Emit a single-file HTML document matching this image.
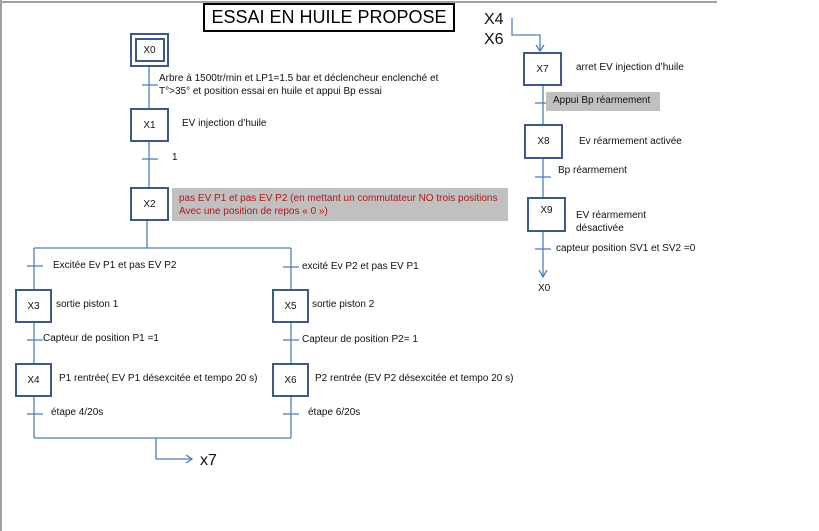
<!DOCTYPE html>
<html><head><meta charset="utf-8"><style>
html,body{margin:0;padding:0;background:#fff;}
body{width:819px;height:531px;position:relative;overflow:hidden;font-family:"Liberation Sans",sans-serif;}
.t{position:absolute;font-size:10px;color:#111;white-space:nowrap;line-height:12px;}
.b{position:absolute;border:2.5px solid #3d5a87;box-sizing:border-box;background:#fff;font-size:10px;display:flex;align-items:center;justify-content:center;color:#111;}
</style></head><body>
<svg width="819" height="531" style="position:absolute;left:0;top:0">
<g stroke="#a0a0a0" stroke-width="2"><line x1="1" y1="0" x2="1" y2="531"/><line x1="0" y1="2" x2="717" y2="2"/></g>
<g stroke="#4f7fbb" stroke-width="1.3" fill="none">
<line x1="149" y1="67" x2="149" y2="187"/>
<line x1="142" y1="85" x2="158" y2="85"/>
<line x1="142" y1="159" x2="158" y2="159"/>
<line x1="147" y1="220" x2="147" y2="248"/>
<line x1="34" y1="248" x2="291" y2="248"/>
<line x1="34" y1="248" x2="34" y2="438"/>
<line x1="291" y1="248" x2="291" y2="438"/>
<line x1="34" y1="438" x2="291" y2="438"/>
<line x1="27" y1="266" x2="43" y2="266"/>
<line x1="27" y1="340" x2="43" y2="340"/>
<line x1="27" y1="414" x2="43" y2="414"/>
<line x1="283" y1="267" x2="299" y2="267"/>
<line x1="283" y1="340" x2="299" y2="340"/>
<line x1="283" y1="414" x2="299" y2="414"/>
<polyline points="156,438 156,459 192,459"/>
<polyline points="186,455 192,459 186,463"/>
<polyline points="512,18 512,35 540,35 540,51"/>
<polyline points="536,45 540,51 544,45"/>
<line x1="543" y1="85" x2="543" y2="276"/>
<line x1="535" y1="103" x2="551" y2="103"/>
<line x1="535" y1="177" x2="551" y2="177"/>
<line x1="535" y1="249" x2="551" y2="249"/>
<polyline points="539,270 543,277 547,270"/>
</g>
</svg>
<div style="position:absolute;left:203px;top:3px;width:252px;height:29px;border:2px solid #000;box-sizing:border-box;font-size:18px;text-align:center;line-height:25px;">ESSAI EN HUILE PROPOSE</div>
<div class="t" style="left:484px;top:10px;font-size:16px;line-height:20px;">X4<br>X6</div>
<div class="b" style="left:130px;top:33px;width:39px;height:34px;"><div style="border:2.5px solid #3d5a87;width:26px;height:20px;display:flex;align-items:center;justify-content:center;">X0</div></div>
<div class="t" style="left:159px;top:72px;line-height:13px;">Arbre à 1500tr/min et LP1=1.5 bar et déclencheur enclenché et<br>T°&gt;35° et position essai en huile et appui Bp essai</div>
<div class="b" style="left:130px;top:108px;width:39px;height:34px;">X1</div>
<div class="t" style="left:182px;top:118px;">EV injection d’huile</div>
<div class="t" style="left:172px;top:152px;">1</div>
<div class="b" style="left:130px;top:187px;width:39px;height:34px;">X2</div>
<div class="t" style="left:172px;top:188px;width:336px;height:33px;background:#c0c0c0;color:#b01818;padding:4px 0 0 7px;box-sizing:border-box;line-height:13px;">pas EV P1 et pas EV P2 (en mettant un commutateur NO trois positions<br>Avec une position de repos « 0 »)</div>
<div class="t" style="left:53px;top:260px;">Excitée Ev P1 et pas EV P2</div>
<div class="b" style="left:15px;top:289px;width:37px;height:34px;">X3</div>
<div class="t" style="left:56px;top:299px;">sortie piston 1</div>
<div class="t" style="left:43px;top:333px;">Capteur de position P1 =1</div>
<div class="b" style="left:15px;top:363px;width:37px;height:34px;">X4</div>
<div class="t" style="left:59px;top:373px;">P1 rentrée( EV P1 désexcitée et tempo 20 s)</div>
<div class="t" style="left:51px;top:407px;">étape 4/20s</div>
<div class="t" style="left:200px;top:452px;font-size:16px;line-height:18px;">x7</div>
<div class="t" style="left:302px;top:261px;">excité Ev P2 et pas EV P1</div>
<div class="b" style="left:272px;top:289px;width:37px;height:34px;">X5</div>
<div class="t" style="left:312px;top:299px;">sortie piston 2</div>
<div class="t" style="left:302px;top:334px;">Capteur de position P2= 1</div>
<div class="b" style="left:272px;top:363px;width:37px;height:34px;">X6</div>
<div class="t" style="left:315px;top:373px;">P2 rentrée (EV P2 désexcitée et tempo 20 s)</div>
<div class="t" style="left:308px;top:407px;">étape 6/20s</div>
<div class="b" style="left:523px;top:52px;width:39px;height:34px;">X7</div>
<div class="t" style="left:576px;top:62px;">arret EV injection d’huile</div>
<div class="t" style="left:546px;top:92px;width:114px;height:19px;background:#c0c0c0;padding:3px 0 0 7px;box-sizing:border-box;">Appui Bp réarmement</div>
<div class="b" style="left:524px;top:124px;width:39px;height:35px;">X8</div>
<div class="t" style="left:579px;top:136px;">Ev réarmement activée</div>
<div class="t" style="left:558px;top:165px;">Bp réarmement</div>
<div class="b" style="left:527px;top:197px;width:39px;height:35px;padding-bottom:8px;">X9</div>
<div class="t" style="left:576px;top:209px;line-height:13px;">EV réarmement<br>désactivée</div>
<div class="t" style="left:556px;top:243px;">capteur position SV1 et SV2 =0</div>
<div class="t" style="left:538px;top:283px;">X0</div>
</body></html>
